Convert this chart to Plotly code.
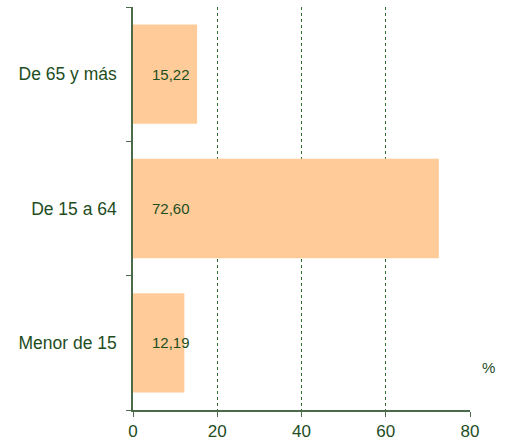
import plotly.graph_objects as go

categories = ["Menor de 15", "De 15 a 64", "De 65 y más"]
values = [12.19, 72.60, 15.22]
labels = ["12,19", "72,60", "15,22"]
x_ticks = [0, 20, 40, 60, 80]

green = "#1e4d1e"
axis_col = "#4a6a4a"
font_fam = "Liberation Sans, Arial"

fig = go.Figure()
fig.add_trace(go.Bar(
    y=categories, x=values, orientation="h",
    marker=dict(color="#FFCC99", line=dict(width=0)),
    hoverinfo="skip",
))

for c, lab in zip(categories, labels):
    fig.add_annotation(x=4, y=c, text=lab, showarrow=False, xanchor="left",
                       font=dict(size=15, color=green, family=font_fam))

fig.add_annotation(xref="paper", yref="paper", x=1.03, y=0.08, text="%",
                   showarrow=False, xanchor="left",
                   font=dict(size=15, color=green, family=font_fam))

fig.update_layout(
    width=510, height=442,
    margin=dict(l=133, r=40, t=7, b=32),
    paper_bgcolor="white", plot_bgcolor="white",
    bargap=0.26,
    showlegend=False,
    font=dict(family=font_fam, color=green),
)
fig.update_xaxes(
    range=[0, 80], tickvals=x_ticks, ticktext=[str(v) for v in x_ticks],
    showgrid=True, gridcolor="#2e6e2e", griddash="dot", gridwidth=1,
    zeroline=False, automargin=False,
    showline=True, linecolor=axis_col, linewidth=1.5,
    ticks="outside", ticklen=5, tickcolor=axis_col,
    tickfont=dict(size=17, color=green),
)
fig.update_yaxes(
    categoryorder="array", categoryarray=categories,
    tickson="boundaries", ticks="outside", ticklen=5, tickcolor=axis_col,
    showline=True, linecolor=axis_col, linewidth=1.5,
    showgrid=False, automargin=False,
    tickfont=dict(size=17.5, color=green),
    ticklabelstandoff=11,
)

fig.write_html("out.html", config={"displayModeBar": False},
               post_script="document.body.style.margin='0';document.body.style.padding='0';")
